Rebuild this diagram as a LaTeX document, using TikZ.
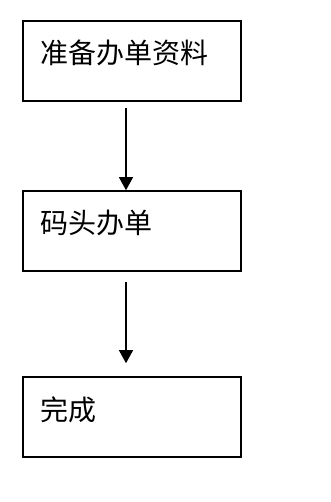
\documentclass[tikz,border=0pt]{standalone}
\usepackage{fontspec}
\setmainfont{Noto Sans CJK SC}
\usetikzlibrary{arrows.meta}

\begin{document}
\begin{tikzpicture}[x=1pt,y=1pt,>={Triangle[width=14pt,length=13pt]},
  every node/.style={font=\fontsize{28}{31}\selectfont},
  stepbox/.style={draw,line width=1.6pt,minimum width=218pt,minimum height=80pt,inner sep=0pt},
  txt/.style={anchor=west,inner sep=0pt},
  flow/.style={->,line width=1.3pt}]
\useasboundingbox (0,0) rectangle (330,502);
\node[stepbox] (prep) at (132,441) {};
\node[stepbox] (dock) at (132,271) {};
\node[stepbox] (done) at (132,85) {};
\node[txt] (prept) at ([xshift=18pt,yshift=8pt]prep.west) {准备办单资料};
\node[txt] (dockt) at ([xshift=18pt,yshift=8pt]dock.west) {码头办单};
\node[txt] (donet) at ([xshift=18pt,yshift=7pt]done.west) {完成};
\draw[flow] ([xshift=-6pt,yshift=-6pt]prep.south)--([xshift=-6pt]dock.north);
\draw[flow] ([xshift=-6pt,yshift=-10pt]dock.south)--([xshift=-6pt,yshift=13pt]done.north);
\end{tikzpicture}
\end{document}
